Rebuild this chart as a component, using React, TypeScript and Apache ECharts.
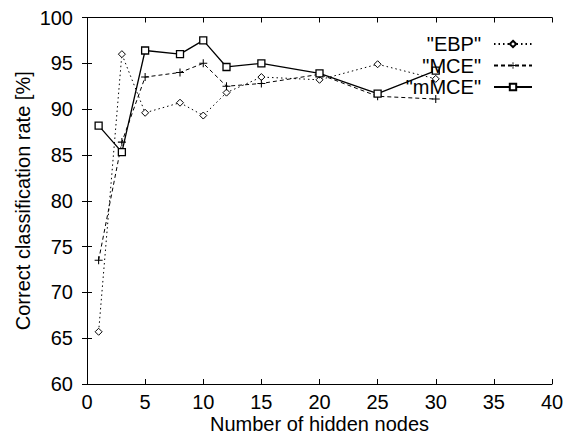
import React, { useEffect, useRef } from "react";
import * as echarts from "echarts";

const hiddenNodes = [1, 3, 5, 8, 10, 12, 15, 20, 25, 30];
const ebp = [65.7, 96.0, 89.6, 90.7, 89.3, 91.8, 93.5, 93.2, 94.9, 93.3];
const mce = [73.5, 86.4, 93.5, 94.0, 95.0, 92.5, 92.8, 93.8, 91.4, 91.1];
const mmce = [88.2, 85.3, 96.4, 96.0, 97.5, 94.6, 95.0, 93.9, 91.7, 94.2];
const seriesNames = ['"EBP"', '"MCE"', '"mMCE"'];
const xTitle = "Number of hidden nodes";
const yTitle = "Correct classification rate [%]";

const FONT = "Liberation Sans, Arial, Helvetica, sans-serif";
const FS = 20;
const plusPath = "path://M-1,-0.13H1V0.13H-1Z M-0.13,-1H0.13V1H-0.13Z";

export default function App() {
  const ref = useRef<HTMLDivElement>(null);
  useEffect(() => {
    document.body.style.margin = "0";
    if (!ref.current) return;
    const chart = echarts.init(ref.current, null, { renderer: "svg" });
    const zip = (ys: number[]) => hiddenNodes.map((x, i) => [x, ys[i]]);
    const commonAxisLine = { show: true, lineStyle: { color: "#000", width: 1 } };
    const tick = { show: true, inside: true, length: 5, lineStyle: { color: "#000", width: 1 } };
    chart.setOption({
      animation: false,
      backgroundColor: "#fff",
      textStyle: { fontFamily: FONT },
      grid: { left: 87, right: 12, top: 17.5, bottom: 51, containLabel: false, outerBoundsMode: "none" },
      legend: {
        orient: "vertical",
        right: 31,
        top: 34,
        padding: 0,
        align: "right",
        itemWidth: 38,
        itemHeight: 8,
        itemGap: 1.5,
        textStyle: { fontSize: FS, fontFamily: FONT, color: "#000", lineHeight: 18, padding: [0, 8, 0, 0] },
        data: seriesNames,
      },
      xAxis: [
        {
          type: "value",
          min: 0,
          max: 40,
          interval: 5,
          position: "bottom",
          name: xTitle,
          nameLocation: "middle",
          nameGap: 32,
          nameMoveOverlap: false,
          nameTextStyle: { fontSize: FS, color: "#000", fontFamily: FONT, lineHeight: 16 },
          axisLine: commonAxisLine,
          axisTick: tick,
          axisLabel: { fontSize: FS, color: "#000", margin: 10, fontFamily: FONT, lineHeight: 16 },
          splitLine: { show: false },
        },
        {
          type: "value",
          min: 0,
          max: 40,
          interval: 5,
          position: "top",
          axisLine: commonAxisLine,
          axisTick: tick,
          axisLabel: { show: false },
          splitLine: { show: false },
        },
      ],
      yAxis: [
        {
          type: "value",
          min: 60,
          max: 100,
          interval: 5,
          position: "left",
          name: yTitle,
          nameLocation: "middle",
          nameGap: 54,
          nameMoveOverlap: false,
          nameRotate: 90,
          nameTextStyle: { fontSize: FS, color: "#000", fontFamily: FONT },
          axisLine: commonAxisLine,
          axisTick: tick,
          axisLabel: { fontSize: FS, color: "#000", margin: 14, fontFamily: FONT },
          splitLine: { show: false },
        },
        {
          type: "value",
          min: 60,
          max: 100,
          interval: 5,
          position: "right",
          axisLine: commonAxisLine,
          axisTick: tick,
          axisLabel: { show: false },
          splitLine: { show: false },
        },
      ],
      series: [
        {
          name: seriesNames[0],
          type: "line",
          data: zip(ebp),
          symbol: "diamond",
          symbolSize: 7,
          itemStyle: { color: "#fff", borderColor: "#000", borderWidth: 1 },
          lineStyle: { color: "#000", width: 1, type: [1.5, 3] },
        },
        {
          name: seriesNames[1],
          type: "line",
          data: zip(mce),
          symbol: plusPath,
          symbolSize: 8,
          itemStyle: { color: "#000" },
          lineStyle: { color: "#000", width: 1, type: [4, 3] },
        },
        {
          name: seriesNames[2],
          type: "line",
          data: zip(mmce),
          symbol: "rect",
          symbolSize: 7,
          itemStyle: { color: "#fff", borderColor: "#000", borderWidth: 1.3 },
          lineStyle: { color: "#000", width: 1.3 },
        },
      ],
    });
    return () => chart.dispose();
  }, []);
  return <div ref={ref} style={{ width: 564, height: 435 }} />;
}
